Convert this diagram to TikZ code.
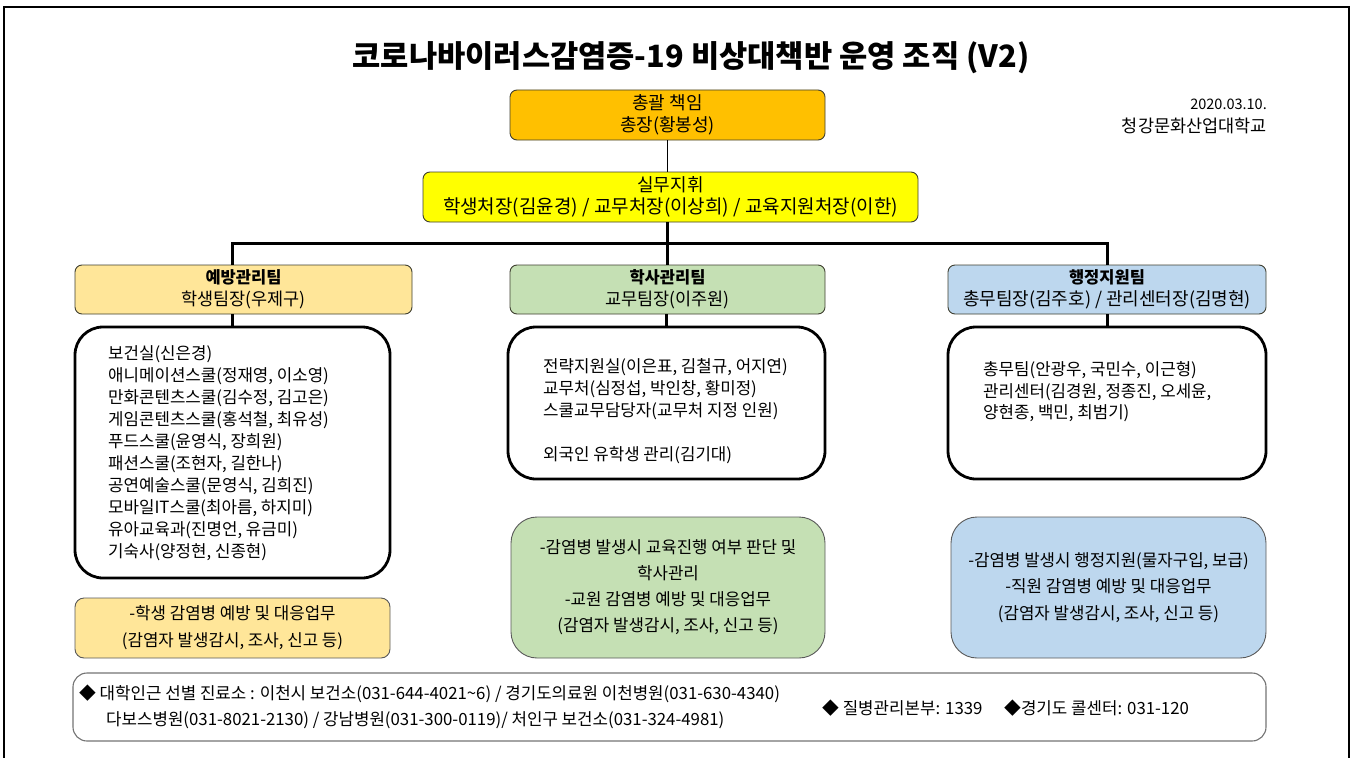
\documentclass[tikz,border=0pt]{standalone}
\usepackage{fontspec}
\setmainfont{Noto Sans CJK KR}
\definecolor{cOrange}{HTML}{FFC000}
\definecolor{cYellow}{HTML}{FFFF00}
\definecolor{cLtYellow}{HTML}{FFE699}
\definecolor{cGreen}{HTML}{C5E0B4}
\definecolor{cBlue}{HTML}{BDD7EE}
\definecolor{cBorder}{HTML}{3F3F30}
\newcommand{\fs}[2]{\fontsize{#1}{#2}\selectfont}
\begin{document}
\begin{tikzpicture}[x=1pt,y=-1pt,
  box/.style={draw=cBorder, line width=0.9pt, rounded corners=7pt, align=center, inner sep=0pt},
  topbox/.style={box, minimum height=50pt, font=\fs{18}{21.5}},
  teambox/.style={box, minimum height=49pt, font=\fs{17.5}{22}},
  membox/.style={draw=black, line width=2.8pt, rounded corners=28pt, fill=white, inner sep=0pt},
  taskbox/.style={draw=black!65, line width=0.9pt, align=center, inner sep=0pt},
  body/.style={align=left, inner sep=0pt, anchor=west},
  conn/.style={line width=3pt},
  thinconn/.style={line width=1.8pt}]
\useasboundingbox (0,0) rectangle (1356,757);
% frame
\draw[line width=1.8pt] (4,7) rectangle (1349,775);

% title
\node[font=\fs{30.7}{34}\bfseries] (title) at (691,58) {코로나바이러스감염증-19 비상대책반 운영 조직 (V2)};
\node[font=\fs{14.5}{21}, anchor=east, inner sep=0pt] (date) at (1267,104) {2020.03.10.};
\node[font=\fs{17.5}{21}, anchor=east, inner sep=0pt] (school) at (1267,125.5) {청강문화산업대학교};

% top
\node[topbox, fill=cOrange, minimum width=315pt] (chief) at (667.5,115) {총괄 책임\\총장(황봉성)};
\node[topbox, fill=cYellow, minimum width=495pt] (cmd) at (670.5,197) {실무지휘\\{\fs{19}{21.5}학생처장(김윤경) / 교무처장(이상희) / 교육지원처장(이한)}};

% teams
\node[teambox, fill=cLtYellow, minimum width=337pt] (teamA) at (243.5,289.5) {{\fs{16.5}{22}\bfseries 예방관리팀}\\학생팀장(우제구)};
\node[teambox, fill=cGreen, minimum width=315pt] (teamB) at (667.5,289.5) {{\fs{16.5}{22}\bfseries 학사관리팀}\\교무팀장(이주원)};
\node[teambox, fill=cBlue, minimum width=318pt] (teamC) at (1107,289.5) {{\fs{16.5}{22}\bfseries 행정지원팀}\\{\fs{18}{22}총무팀장(김주호) / 관리센터장(김명현)}};

% connectors
\coordinate (busL) at (232,243);
\coordinate (busR) at (1107,243);
\draw[thinconn] (teamB.north |- chief.south) -- (teamB.north |- cmd.north);
\draw[conn] (teamB.north |- cmd.south) -- (teamB.north);
\draw[conn] (teamA.north -| busL) -- (busL) -- (busR) -- (teamC.north -| busR);

% member boxes
\node[membox, minimum width=315pt, minimum height=251pt] (memA) at (232.5,452.5) {};
\node[membox, minimum width=317pt, minimum height=152pt] (memB) at (666.5,403) {};
\node[membox, minimum width=318pt, minimum height=152pt] (memC) at (1107,403) {};
\draw[conn] (memA.north -| busL) -- (teamA.south -| busL);
\draw[conn] (memB.north) -- (memB.north |- teamB.south);
\draw[conn] (memC.north) -- (memC.north |- teamC.south);

\node[body, font=\fs{16.8}{22}] (txtA) at (108,453) {보건실(신은경)\\애니메이션스쿨(정재영, 이소영)\\만화콘텐츠스쿨(김수정, 김고은)\\게임콘텐츠스쿨(홍석철, 최유성)\\푸드스쿨(윤영식, 장희원)\\패션스쿨(조현자, 길한나)\\공연예술스쿨(문영식, 김희진)\\모바일IT스쿨(최아름, 하지미)\\유아교육과(진명언, 유금미)\\기숙사(양정현, 신종현)};
\node[body, font=\fs{16.8}{22}] (txtB) at (543,411) {전략지원실(이은표, 김철규, 어지연)\\교무처(심정섭, 박인창, 황미정)\\스쿨교무담당자(교무처 지정 인원)\\[22pt]외국인 유학생 관리(김기대)};
\node[body, font=\fs{16.8}{21.5}] (txtC) at (983,392) {총무팀(안광우, 국민수, 이근형)\\관리센터(김경원, 정종진, 오세윤,\\양현종, 백민, 최범기)};

% task boxes
\node[taskbox, fill=cLtYellow, rounded corners=9pt, minimum width=315pt, minimum height=60pt, font=\fs{16.8}{27}] (taskA) at (232.5,628) {-학생 감염병 예방 및 대응업무\\(감염자 발생감시, 조사, 신고 등)};
\node[taskbox, fill=cGreen, rounded corners=26pt, minimum width=314pt, minimum height=141pt, font=\fs{16.8}{26}] (taskB) at (668,587.5) {-감염병 발생시 교육진행 여부 판단 및\\학사관리\\-교원 감염병 예방 및 대응업무\\(감염자 발생감시, 조사, 신고 등)};
\node[taskbox, fill=cBlue, rounded corners=26pt, minimum width=315pt, minimum height=141pt, font=\fs{16.8}{26.5}] (taskC) at (1108.5,587.5) {-감염병 발생시 행정지원(물자구입, 보급)\\-직원 감염병 예방 및 대응업무\\(감염자 발생감시, 조사, 신고 등)};

% footer
\node[draw=black!55, line width=1.1pt, rounded corners=14pt, minimum width=1193pt, minimum height=68pt, inner sep=0pt] (footer) at (669.5,707) {};
\node[body, font=\fs{16.8}{26}] (foot1) at (79,707) {◆ 대학인근 선별 진료소 : 이천시 보건소(031-644-4021\textasciitilde6) / 경기도의료원 이천병원(031-630-4340)\\\hspace*{27pt}다보스병원(031-8021-2130) / 강남병원(031-300-0119)/ 처인구 보건소(031-324-4981)};
\node[body, font=\fs{16.8}{26}] (foot2) at (822,708) {◆ 질병관리본부: 1339};
\node[body, font=\fs{16.8}{26}] (foot3) at (1004,708) {◆경기도 콜센터: 031-120};
\end{tikzpicture}
\end{document}
